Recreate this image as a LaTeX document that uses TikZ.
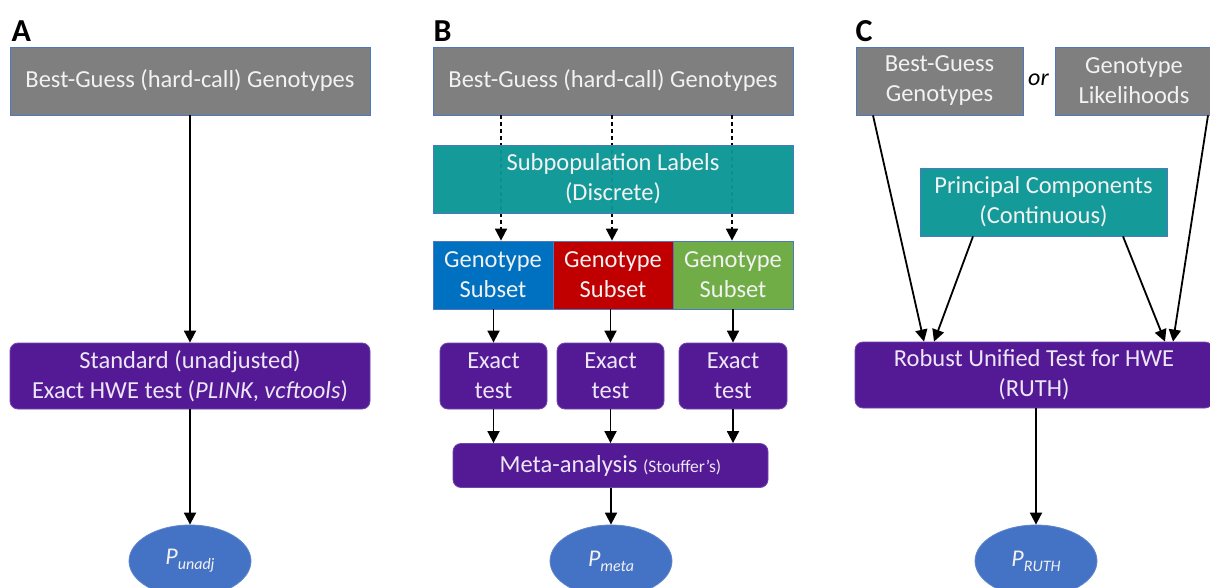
\documentclass[tikz,border=0pt]{standalone}
\usepackage{fontspec}
\setmainfont{Carlito}
\usetikzlibrary{shapes.geometric,arrows.meta}
\definecolor{boxgray}{RGB}{127,127,127}
\definecolor{edgeblue}{RGB}{80,120,190}
\definecolor{teal2}{RGB}{12,150,150}
\definecolor{purp}{RGB}{84,26,150}
\definecolor{purpedge}{RGB}{110,70,170}
\definecolor{ellblue}{RGB}{68,114,196}
\definecolor{gbl}{RGB}{0,112,192}
\definecolor{gred}{RGB}{192,0,0}
\definecolor{ggreen}{RGB}{112,173,71}
\definecolor{lighttext}{RGB}{242,242,242}
\definecolor{lavtext}{RGB}{236,230,246}
\tikzset{
  base/.style={inner sep=0pt, align=center, font=\fontsize{24.5}{30}\selectfont},
  graybox/.style={base, fill=boxgray, draw=edgeblue, line width=0.8pt, text=lighttext},
  tealbox/.style={base, fill=teal2, fill opacity=0.96, text opacity=1, draw=edgeblue, line width=0.8pt, text=lighttext},
  purpbox/.style={base, fill=purp, draw=purpedge, line width=0.8pt, rounded corners=8pt, text=lavtext},
  subbox/.style={base, draw=edgeblue, line width=0.8pt, text=lighttext, minimum width=120pt, minimum height=68pt},
  pell/.style={ellipse, fill=ellblue, draw=ellblue!85!white, line width=0.8pt, text=lighttext, minimum width=122pt, minimum height=72pt, inner sep=0pt},
  panel/.style={font=\fontsize{32}{32}\selectfont\bfseries, anchor=base west},
  arr/.style={line width=1.8pt, -{Triangle[width=12pt,length=12pt]}},
  darr/.style={arr, dash pattern=on 4pt off 3pt},
}
\newcommand{\pval}[1]{\fontsize{24}{24}\selectfont\itshape P\raisebox{-5pt}{\fontsize{16}{16}\selectfont #1}}
\begin{document}
\begin{tikzpicture}[x=1pt,y=-1pt]
\useasboundingbox (0,0) rectangle (1210,588);
\clip (0,0) rectangle (1210,588);
\fill[white] (0,0) rectangle (1210,588);

% ---------------- Panel A ----------------
\node[panel] (labA) at (8,42) {A};
\node[graybox, minimum width=360pt, minimum height=68pt] (gA) at (190,81) {Best-Guess (hard-call) Genotypes};
\node[purpbox, minimum width=360pt, minimum height=66pt] (sA) at (190,376) {Standard (unadjusted)\\Exact HWE test (\textit{PLINK}, \textit{vcftools})};
\node[pell] (pA) at (190,561) {\pval{unadj}};
\draw[arr] (gA.south) -- (sA.north);
\draw[arr] (sA.south) -- (pA.north);

% ---------------- Panel B ----------------
\node[panel] (labB) at (430,42) {B};
\node[graybox, minimum width=360pt, minimum height=68pt] (gB) at (613,81) {Best-Guess (hard-call) Genotypes};
\coordinate (d1) at (501,0);
\coordinate (d2) at (612,0);
\coordinate (d3) at (732,0);
\node[subbox, fill=gbl] (s1) at (493,275) {Genotype\\Subset};
\node[subbox, fill=gred] (s2) at (613,275) {Genotype\\Subset};
\node[subbox, fill=ggreen] (s3) at (733,275) {Genotype\\Subset};
\draw[darr] (gB.south -| d1) -- (s1.north -| d1);
\draw[darr] (gB.south -| d2) -- (s2.north -| d2);
\draw[darr] (gB.south -| d3) -- (s3.north -| d3);
\node[tealbox, minimum width=360pt, minimum height=68pt] (tB) at (613,179) {Subpopulation Labels\\(Discrete)};
\node[purpbox, minimum width=107pt, minimum height=66pt] (e1) at (493.5,376) {Exact\\test};
\node[purpbox, minimum width=107pt, minimum height=66pt] (e2) at (610.5,376) {Exact\\test};
\node[purpbox, minimum width=108pt, minimum height=66pt] (e3) at (733,376) {Exact\\test};
\node[purpbox, minimum width=315pt, minimum height=44pt] (mB) at (610.5,465.5) {Meta-analysis {\fontsize{17.5}{17.5}\selectfont(Stouffer’s)}};
\node[pell] (pB) at (611,561) {\pval{meta}};
\draw[arr] (s1.south -| e1) -- (e1.north);
\draw[arr] (s2.south -| e2) -- (e2.north);
\draw[arr] (s3.south -| e3) -- (e3.north);
\draw[arr] (e1.south) -- (e1.south |- mB.north);
\draw[arr] (e2.south) -- (e2.south |- mB.north);
\draw[arr] (e3.south) -- (e3.south |- mB.north);
\draw[arr] (mB.south -| pB) -- (pB.north);

% ---------------- Panel C ----------------
\node[panel] (labC) at (852,42) {C};
\node[graybox, minimum width=167pt, minimum height=68pt] (gC1) at (939.5,81) {Best-Guess\\Genotypes};
\node[graybox, minimum width=158pt, minimum height=68pt] (gC2) at (1134,81) {Genotype\\Likelihoods};
\node[base, font=\fontsize{24}{24}\selectfont\itshape, text=black] (orC) at (1038.5,80) {or};
\node[tealbox, minimum width=247pt, minimum height=68pt] (tC) at (1043.5,202) {Principal Components\\(Continuous)};
\node[purpbox, minimum width=358pt, minimum height=66pt] (rC) at (1034,375) {Robust Unified Test for HWE\\(RUTH)};
\node[pell] (pC) at (1036,561) {\pval{RUTH}};
\coordinate (c1) at (873,0);
\coordinate (c1e) at (924,0);
\coordinate (c2) at (973,0);
\coordinate (c2e) at (934,0);
\coordinate (c3) at (1123,0);
\coordinate (c3e) at (1165,0);
\coordinate (c4) at (1208,0);
\coordinate (c4e) at (1173,0);
\draw[arr] (gC1.south -| c1) -- (rC.north -| c1e);
\draw[arr] (tC.south -| c2) -- (rC.north -| c2e);
\draw[arr] (tC.south -| c3) -- (rC.north -| c3e);
\draw[arr] (gC2.south -| c4) -- (rC.north -| c4e);
\draw[arr] (rC.south -| pC) -- (pC.north);
\end{tikzpicture}
\end{document}
